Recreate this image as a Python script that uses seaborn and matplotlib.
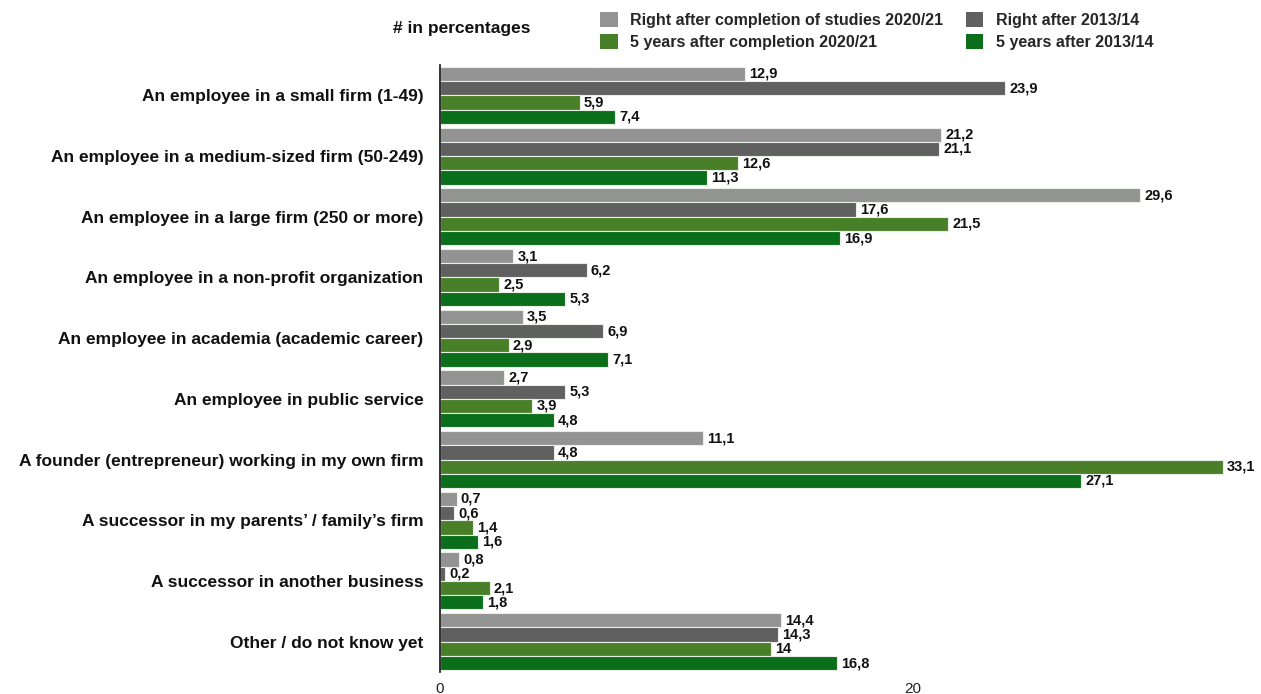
import matplotlib
matplotlib.use("Agg")
import matplotlib.pyplot as plt
from matplotlib.patches import Patch
import seaborn as sns
import pandas as pd

categories = [
    "An employee in a small firm (1-49)",
    "An employee in a medium-sized firm (50-249)",
    "An employee in a large firm (250 or more)",
    "An employee in a non-profit organization",
    "An employee in academia (academic career)",
    "An employee in public service",
    "A founder (entrepreneur) working in my own firm",
    "A successor in my parents\u2019 / family\u2019s firm",
    "A successor in another business",
    "Other / do not know yet",
]
series_names = [
    "Right after completion of studies 2020/21",
    "Right after 2013/14",
    "5 years after completion 2020/21",
    "5 years after 2013/14",
]
right_after_2021 = [12.9, 21.2, 29.6, 3.1, 3.5, 2.7, 11.1, 0.7, 0.8, 14.4]
right_after_2014 = [23.9, 21.1, 17.6, 6.2, 6.9, 5.3, 4.8, 0.6, 0.2, 14.3]
five_years_2021 = [5.9, 12.6, 21.5, 2.5, 2.9, 3.9, 33.1, 1.4, 2.1, 14.0]
five_years_2014 = [7.4, 11.3, 16.9, 5.3, 7.1, 4.8, 27.1, 1.6, 1.8, 16.8]
colors = ["#939393", "#606060", "#4a7f2a", "#0b6e1b"]
x_ticks = [0, 20]

series_values = [right_after_2021, right_after_2014, five_years_2021, five_years_2014]
rows = []
for name, vals in zip(series_names, series_values):
    for cat, v in zip(categories, vals):
        rows.append({"category": cat, "series": name, "value": v})
df = pd.DataFrame(rows)

sns.set_theme(style="white")
plt.rcParams["font.family"] = ["Liberation Sans", "DejaVu Sans"]

fig = plt.figure(figsize=(12.61, 6.94), dpi=100)
ax = fig.add_axes([440 / 1261, 1 - 672 / 694, (34 * 23.65) / 1261, (672 - 65) / 694])

sns.barplot(
    data=df, y="category", x="value", hue="series",
    order=categories, hue_order=series_names, palette=colors,
    saturation=1, orient="h", width=0.94, dodge=True, ax=ax,
    edgecolor="#e8efe6", linewidth=0.8, legend=False, errorbar=None,
)

ax.set_xlim(0, 34)
ax.set_ylim(9.5, -0.5)
ax.set_xlabel("")
ax.set_ylabel("")
ax.set_xticks(x_ticks)
ax.set_xticklabels([str(t) for t in x_ticks], fontsize=11, color="#222222")
ax.tick_params(axis="x", length=0, pad=7)
ax.tick_params(axis="y", length=0, pad=12)
for lbl in ax.get_yticklabels():
    lbl.set_fontweight("bold")
    lbl.set_fontsize(12.5)
    lbl.set_color("#111111")
for side in ["top", "right", "bottom"]:
    ax.spines[side].set_visible(False)
ax.spines["left"].set_color("#111111")
ax.spines["left"].set_linewidth(1.2)

# value labels at the end of each bar
for container in ax.containers:
    labels = [f"{bar.get_width():g}".replace(".", ",") for bar in container]
    ax.bar_label(container, labels=labels, padding=3, fontsize=10.5,
                 fontweight="bold", color="#111111", clip_on=False)

fig.text(393 / 1261, 1 - 29 / 694, "# in percentages", fontsize=12.5,
         fontweight="bold", va="center", ha="left", color="#111111")

handles = [Patch(facecolor=c, edgecolor="none") for c in colors]
order = [0, 2, 1, 3]
fig.legend(
    [handles[i] for i in order], [series_names[i] for i in order],
    ncol=2, loc="center left", bbox_to_anchor=(600 / 1261, 1 - 31 / 694),
    frameon=False, prop={"weight": "bold", "size": 11.5},
    handlelength=1.1, handleheight=1.1, handletextpad=0.8,
    columnspacing=1.4, labelspacing=0.35, borderaxespad=0, borderpad=0,
)

fig.savefig("out.png", dpi=100, facecolor="white")
